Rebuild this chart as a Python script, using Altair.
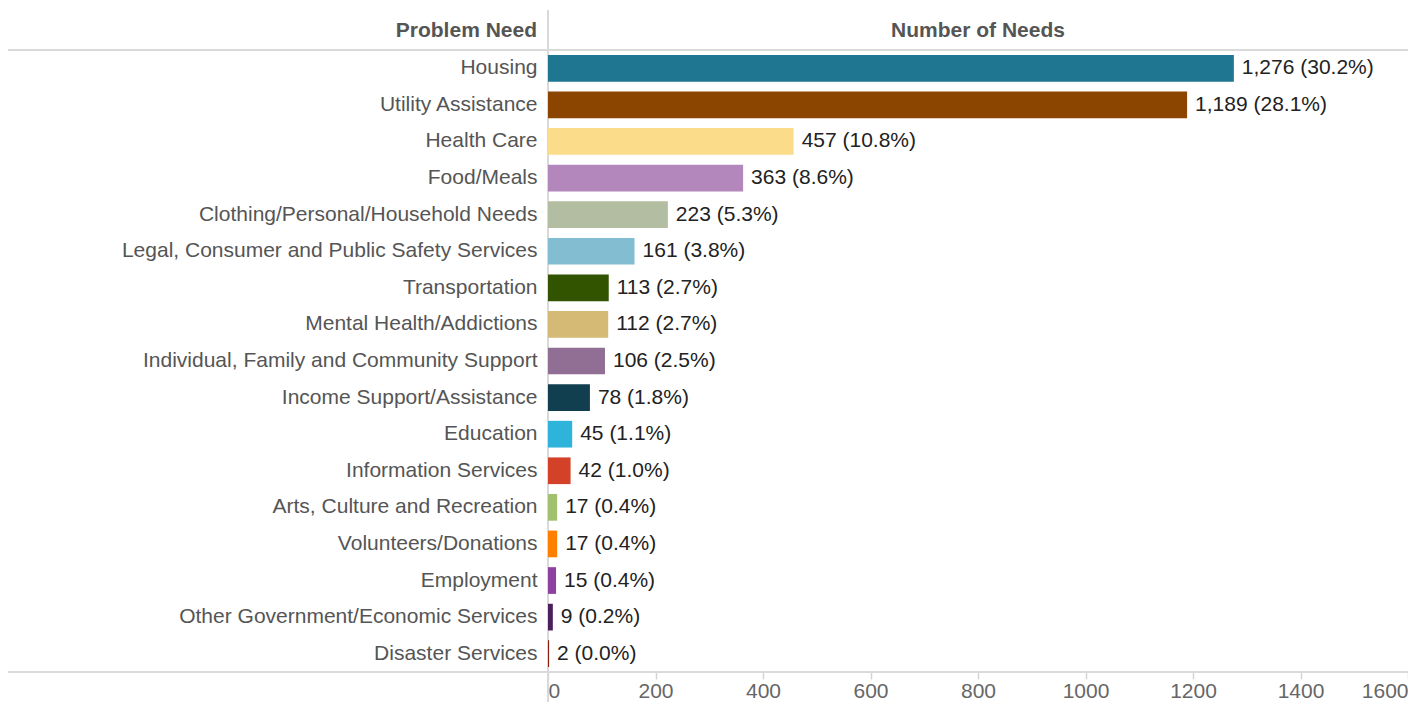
import altair as alt
import pandas as pd

categories = [
    "Housing", "Utility Assistance", "Health Care", "Food/Meals",
    "Clothing/Personal/Household Needs", "Legal, Consumer and Public Safety Services",
    "Transportation", "Mental Health/Addictions", "Individual, Family and Community Support",
    "Income Support/Assistance", "Education", "Information Services",
    "Arts, Culture and Recreation", "Volunteers/Donations", "Employment",
    "Other Government/Economic Services", "Disaster Services",
]
counts = [1276, 1189, 457, 363, 223, 161, 113, 112, 106, 78, 45, 42, 17, 17, 15, 9, 2]
percents = ["30.2%", "28.1%", "10.8%", "8.6%", "5.3%", "3.8%", "2.7%", "2.7%", "2.5%",
            "1.8%", "1.1%", "1.0%", "0.4%", "0.4%", "0.4%", "0.2%", "0.0%"]
colors = ["#1F7690", "#8C4500", "#FBDC8A", "#B386BC", "#B3BDA2", "#82BDD1", "#325400",
          "#D5BA76", "#916E94", "#123F4F", "#2EB4DA", "#D34128", "#A2C16F", "#FF7F00",
          "#8E41A0", "#4C1E5B", "#8B1A0A"]
x_ticks = [0, 200, 400, 600, 800, 1000, 1200, 1400, 1600]

df = pd.DataFrame({"need": categories, "count": counts, "pct": percents})
df["label"] = [f"{c:,} ({p})" for c, p in zip(counts, percents)]

FONT = "Liberation Sans"
FS = 21
W, H = 860, 622
PL, PT, PB = 540, 42, 30

y_enc = alt.Y("need:N", sort=categories,
              scale=alt.Scale(paddingInner=0.27, paddingOuter=0.135),
              axis=alt.Axis(title=None, ticks=False, domain=False, labelFontSize=FS,
                            labelFont=FONT, labelColor="#555555", labelPadding=11,
                            labelLimit=600))
x_enc = alt.X("count:Q", scale=alt.Scale(domain=[0, 1600], nice=False),
              axis=alt.Axis(title=None, values=x_ticks, grid=False, domain=False,
                            tickColor="#d4d4d4", tickSize=7, tickWidth=1.5,
                            labelFontSize=FS, labelFont=FONT, labelColor="#666666",
                            labelPadding=1, labelFlush=True, format="d"))

base = alt.Chart(df)

vline = alt.Chart(pd.DataFrame({"a": [0]})).mark_rule(color="#d9d9d9", strokeWidth=2).encode(
    x=alt.value(0), y=alt.value(-40), y2=alt.value(H + PB))
hline_top = alt.Chart(pd.DataFrame({"a": [0]})).mark_rule(color="#dadada", strokeWidth=2).encode(
    x=alt.value(-PL), x2=alt.value(W), y=alt.value(0))
hline_bot = alt.Chart(pd.DataFrame({"a": [0]})).mark_rule(color="#dadada", strokeWidth=2).encode(
    x=alt.value(-PL), x2=alt.value(W), y=alt.value(H))

bars = base.mark_bar().encode(
    y=y_enc, x=x_enc,
    color=alt.Color("need:N", scale=alt.Scale(domain=categories, range=colors), legend=None),
)
texts = base.mark_text(align="left", baseline="middle", dx=8, fontSize=FS, font=FONT,
                       color="#222222").encode(
    y=alt.Y("need:N", sort=categories), x="count:Q", text="label:N")

hdr_left = alt.Chart(pd.DataFrame({"t": ["Problem Need"]})).mark_text(
    align="right", baseline="middle", fontSize=FS, font=FONT, fontWeight="bold",
    color="#555555").encode(text="t:N", x=alt.value(-11), y=alt.value(-19))
hdr_right = alt.Chart(pd.DataFrame({"t": ["Number of Needs"]})).mark_text(
    align="center", baseline="middle", fontSize=FS, font=FONT, fontWeight="bold",
    color="#555555").encode(text="t:N", x=alt.value(W / 2), y=alt.value(-19))

chart = alt.layer(vline, hline_top, hline_bot, bars, texts, hdr_left, hdr_right).properties(
    width=W, height=H,
    autosize=alt.AutoSizeParams(type="none"),
    padding={"left": PL, "top": PT, "right": 0, "bottom": PB},
).configure_view(stroke=None)

chart.save("out.html", embed_options={"renderer": "svg", "actions": False})
